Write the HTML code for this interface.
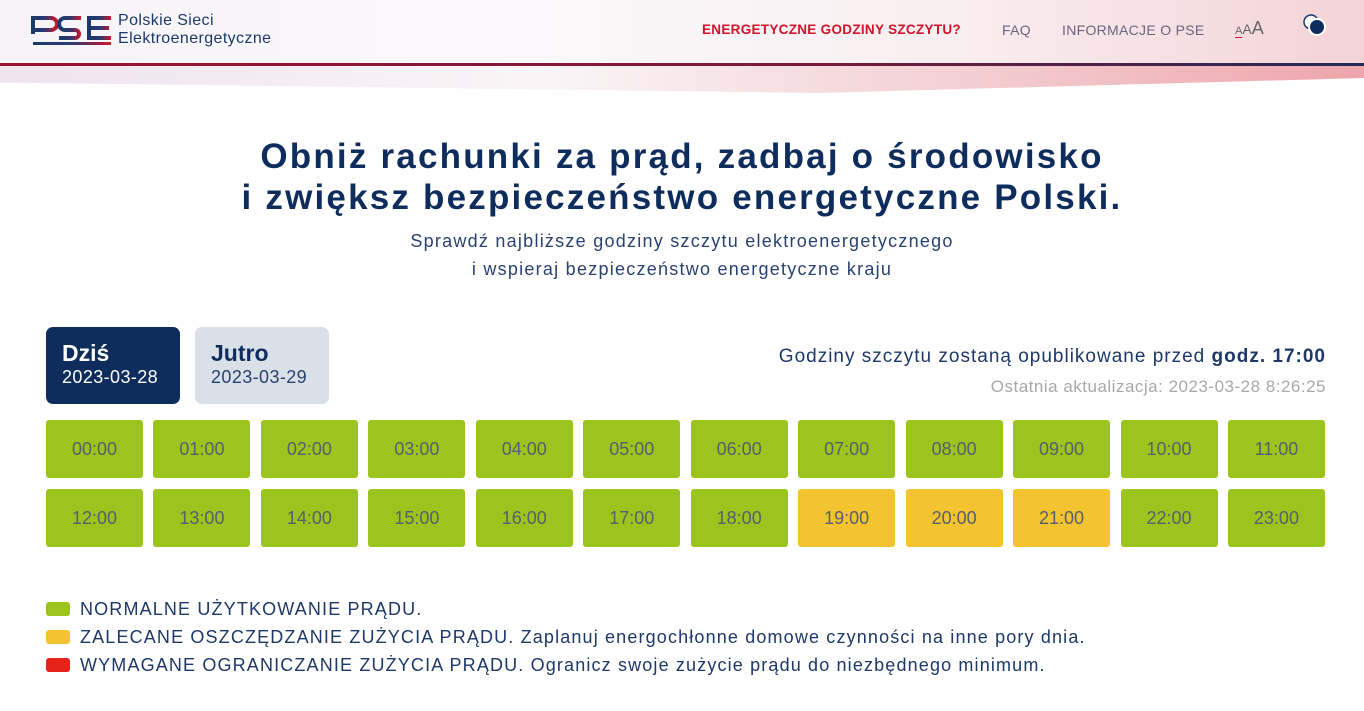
<!DOCTYPE html>
<html><head><meta charset="utf-8"><style>
*{box-sizing:border-box;margin:0;padding:0}
body{width:1364px;height:711px;overflow:hidden;background:#fff;font-family:"Liberation Sans","DejaVu Sans",sans-serif;position:relative;color:#0f2d5c}
.hdr{position:absolute;left:0;top:0;width:1364px;height:63px;background:linear-gradient(90deg,#f6f4f7 0%,#fbf9fb 40%,#f9eef0 70%,#f3d3d7 100%)}
.line{position:absolute;left:0;top:63px;width:1364px;height:3px;background:linear-gradient(90deg,#9b1230,#7a1a3a 60%,#1f2a5a)}
.band{position:absolute;left:0;top:66px;width:1364px;height:30px;background:linear-gradient(90deg,#efe3ee 0%,#faf5f7 40%,#f3d0d4 70%,#eea5ab 100%);clip-path:polygon(0 0,100% 0,100% 40%,60% 90%,0 55%)}
.abs{position:absolute}
.nav{font-size:14px;color:#6a6580;top:22px;letter-spacing:.3px}
h1{position:absolute;left:0;width:1364px;text-align:center;top:136px;font-size:35px;line-height:41px;font-weight:bold;color:#0f2d5c;letter-spacing:2.2px}
.sub{position:absolute;left:0;width:1364px;text-align:center;top:227px;font-size:18px;line-height:28px;color:#2a4270;letter-spacing:1.25px}
.tab{position:absolute;top:327px;width:134px;height:77px;border-radius:7px;padding:13px 0 0 16px}
.tab b{display:block;font-size:23px}
.tab span{font-size:18px;letter-spacing:.4px}
.cell{position:absolute;width:97px;height:58px;border-radius:3px;display:flex;align-items:center;justify-content:center;font-size:18px;color:#55606a}
.leg{position:absolute;left:46px;font-size:18px;color:#1e3868;letter-spacing:1.15px}
.leg i{display:inline-block;width:24px;height:14px;border-radius:3px;vertical-align:-1px;margin-right:10px}
</style></head><body>
<div class="hdr"></div>
<div class="line"></div>
<div class="band"></div>
<div class="abs" style="left:31px;top:14px">
<svg width="80" height="32" viewBox="0 0 80 32"><defs><linearGradient id="g" x1="0" x2="1"><stop offset="0" stop-color="#1b3a6b"/><stop offset=".5" stop-color="#2a3a70"/><stop offset="1" stop-color="#d0142a"/></linearGradient></defs>
<g fill="none" stroke="url(#g)" stroke-width="4"><path d="M2 20V4h18a6 6 0 0 1 0 12H4"/><path d="M50 4H34a6 6 0 0 0 0 12h10a4 4 0 0 1 0 8H28"/><path d="M80 4H58v20h22M58 14h20"/></g><rect x="2" y="28" width="78" height="3" fill="url(#g)"/></svg></div>
<div class="abs" style="left:118px;top:12px;font-size:16px;line-height:18px;color:#1b3a6b;letter-spacing:.4px">Polskie Sieci<br>Elektroenergetyczne</div>
<div class="abs nav" style="left:702px;color:#d0142a;font-weight:bold;font-size:13.5px">ENERGETYCZNE GODZINY SZCZYTU?</div>
<div class="abs nav" style="left:1002px">FAQ</div>
<div class="abs nav" style="left:1062px">INFORMACJE O PSE</div>
<div class="abs" style="left:1235px;top:18px;color:#666;font-size:18px"><span style="font-size:11px;border-bottom:1px solid #d0142a">A</span><span style="font-size:14px">A</span>A</div>
<div class="abs" style="left:1303px;top:14px"><svg width="24" height="24"><circle cx="8" cy="8" r="7" fill="#fff" stroke="#1b3a6b" stroke-width="1.5"/><circle cx="14" cy="13" r="8" fill="#0f2d5c" stroke="#fff" stroke-width="2"/></svg></div>
<h1>Obniż rachunki za prąd, zadbaj o środowisko<br>i zwiększ bezpieczeństwo energetyczne Polski.</h1>
<div class="sub">Sprawdź najbliższe godziny szczytu elektroenergetycznego<br>i wspieraj bezpieczeństwo energetyczne kraju</div>
<div class="tab" style="left:46px;background:#0f2d5c;color:#fff"><b>Dziś</b><span>2023-03-28</span></div>
<div class="tab" style="left:195px;background:#d9e0e8;color:#0f2d5c"><b>Jutro</b><span style="color:#2a4270">2023-03-29</span></div>
<div class="abs" style="right:38px;top:346px;font-size:19px;color:#1e3868;letter-spacing:1px">Godziny szczytu zostaną opublikowane przed <b>godz. 17:00</b></div>
<div class="abs" style="right:38px;top:377px;font-size:17px;color:#a8a8a8;letter-spacing:.5px">Ostatnia aktualizacja: 2023-03-28 8:26:25</div>
<div id="grid"></div>
<div class="leg" style="top:599px"><i style="background:#9bc41f"></i>NORMALNE UŻYTKOWANIE PRĄDU.</div>
<div class="leg" style="top:627px"><i style="background:#f4c430"></i>ZALECANE OSZCZĘDZANIE ZUŻYCIA PRĄDU. Zaplanuj energochłonne domowe czynności na inne pory dnia.</div>
<div class="leg" style="top:655px"><i style="background:#e5231b"></i>WYMAGANE OGRANICZANIE ZUŻYCIA PRĄDU. Ogranicz swoje zużycie prądu do niezbędnego minimum.</div>
<script>
const hours=["00:00","01:00","02:00","03:00","04:00","05:00","06:00","07:00","08:00","09:00","10:00","11:00","12:00","13:00","14:00","15:00","16:00","17:00","18:00","19:00","20:00","21:00","22:00","23:00"];
const status=[0,0,0,0,0,0,0,0,0,0,0,0,0,0,0,0,0,0,0,1,1,1,0,0];
const colors=["#9bc41f","#f4c430","#e5231b"];
const g=document.getElementById('grid');
hours.forEach((h,i)=>{
 const d=document.createElement('div');
 d.className='cell';
 
 
 d.style.left=(46+(i%12)*107.45)+'px';
 d.style.top=(420+Math.floor(i/12)*69)+'px';
 d.style.background=colors[status[i]];
 d.textContent=h;
 g.appendChild(d);
});
</script>
</body></html>
